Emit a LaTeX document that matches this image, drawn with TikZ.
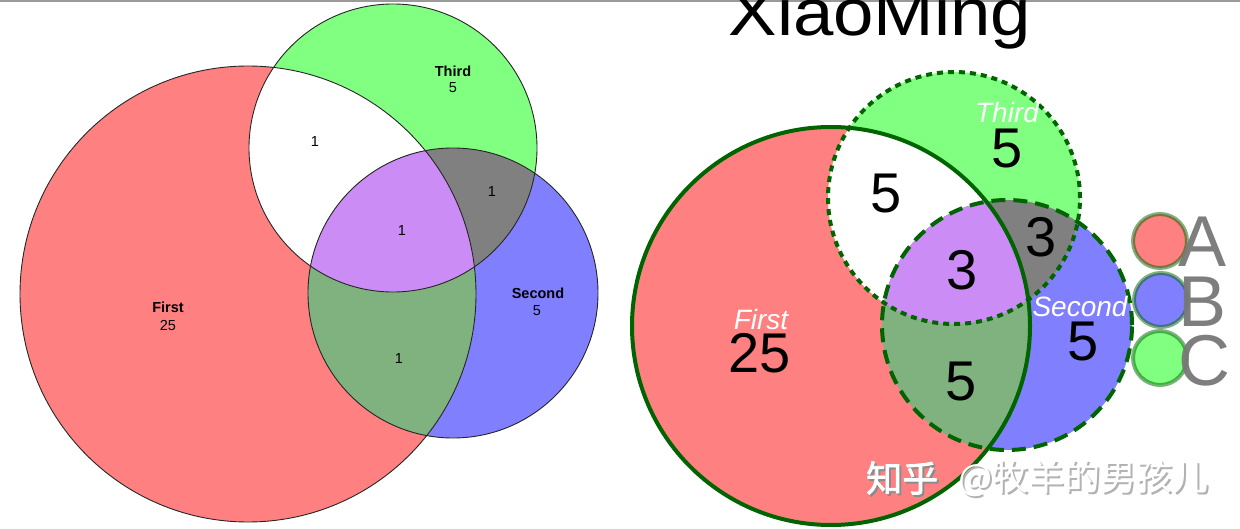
\documentclass[tikz,border=0pt]{standalone}
\usepackage{fontspec}
\setmainfont{Liberation Sans}
\newfontfamily\cjk{Noto Sans CJK SC}
\newfontfamily\cjkb[FakeBold=2]{Noto Sans CJK SC}
\definecolor{vred}{RGB}{255,128,128}
\definecolor{vgreen}{RGB}{128,255,128}
\definecolor{vblue}{RGB}{128,128,255}
\definecolor{vpurple}{RGB}{204,140,245}
\definecolor{vgray}{RGB}{128,128,128}
\definecolor{vmix}{RGB}{128,178,128}
\definecolor{dgreen}{RGB}{0,100,0}
\definecolor{lgray}{RGB}{120,120,120}
\begin{document}
\begin{tikzpicture}[x=1pt,y=-1pt,
  outl/.style={circle,draw=black!85,line width=0.9pt,inner sep=0pt},
  outr/.style={circle,draw=dgreen,line width=4pt,inner sep=0pt},
  lab/.style={anchor=base,font=\fontsize{14.5}{16}\selectfont\bfseries,inner sep=0pt},
  num/.style={anchor=base,font=\fontsize{14.5}{16}\selectfont,inner sep=0pt},
  rlab/.style={anchor=base,font=\fontsize{28}{30}\selectfont\itshape,text=white,inner sep=0pt},
  rnum/.style={anchor=base,font=\fontsize{56}{60}\selectfont,inner sep=0pt},
  leg/.style={circle,draw=dgreen,draw opacity=0.5,line width=4pt,inner sep=0pt,minimum size=54pt},
  legt/.style={anchor=base west,font=\fontsize{72}{76}\selectfont,text=lgray,text opacity=0.95,inner sep=0pt},
  wm/.style={anchor=west,font=\cjk\fontsize{36}{38}\selectfont,inner sep=0pt},
  wmb/.style={anchor=west,font=\cjkb\fontsize{36}{38}\selectfont,inner sep=0pt}]
\useasboundingbox (0,0) rectangle (1240,529);
\clip (0,0) rectangle (1240,529);
\fill[white] (0,0) rectangle (1240,529);
\fill[black!40] (0,0) rectangle (1240,2);
% ---------- left diagram ----------
\fill[vred] (248,294) circle[radius=228];
\fill[vblue] (453,293) circle[radius=145];
\fill[vgreen] (393,148) circle[radius=144];
\begin{scope}
  \clip (248,294) circle[radius=228];
  \fill[white] (393,148) circle[radius=144];
  \fill[vmix] (453,293) circle[radius=145];
\end{scope}
\begin{scope}
  \clip (453,293) circle[radius=145];
  \fill[vgray] (393,148) circle[radius=144];
  \clip (248,294) circle[radius=228];
  \fill[vpurple] (393,148) circle[radius=144];
\end{scope}
\node[outl,minimum size=456pt] (LF) at (248,294) {};
\node[outl,minimum size=290pt] (LS) at (453,293) {};
\node[outl,minimum size=288pt] (LT) at (393,148) {};
\node[lab] (LFl) at (168,313) {First};
\node[num] (LFn) at (168,331) {25};
\node[lab] (LTl) at (453,77) {Third};
\node[num] (LTn) at (453,93) {5};
\node[lab] (LSl) at (538,299) {Second};
\node[num] (LSn) at (537,316) {5};
\node[num] (L13) at (315,147) {1};
\node[num] (L23) at (492,197) {1};
\node[num] (L123) at (402,236) {1};
\node[num] (L12) at (399,363) {1};
% ---------- right diagram ----------
\fill[vred] (831,326) circle[radius=199];
\fill[vblue] (1007,325) circle[radius=125];
\fill[vgreen] (954,198) circle[radius=126];
\begin{scope}
  \clip (831,326) circle[radius=199];
  \fill[white] (954,198) circle[radius=126];
  \fill[vmix] (1007,325) circle[radius=125];
\end{scope}
\begin{scope}
  \clip (1007,325) circle[radius=125];
  \fill[vgray] (954,198) circle[radius=126];
  \clip (831,326) circle[radius=199];
  \fill[vpurple] (954,198) circle[radius=126];
\end{scope}
\node[outr,dash pattern=on 6pt off 5pt,minimum size=252pt] (RT) at (954,198) {};
\node[outr,dash pattern=on 14pt off 8pt,minimum size=250pt] (RS) at (1007,325) {};
\node[outr,minimum size=398pt] (RF) at (831,326) {};
\node[rlab] (RFl) at (761,330) {First};
\node[rnum] (RFn) at (760,373) {25};
\node[rlab] (RTl) at (1007,123) {Third};
\node[rnum] (RTn) at (1007,168) {5};
\node[rlab] (RSl) at (1080,317) {Second};
\node[rnum] (RSn) at (1083,360) {5};
\node[rnum] (R13) at (886,213) {5};
\node[rnum] (R23) at (1041,257) {3};
\node[rnum] (R123) at (962,290) {3};
\node[rnum] (R12) at (961,400) {5};
% ---------- legend ----------
\node[leg,fill=vred] (KA) at (1160,241) {};
\node[leg,fill=vblue] (KB) at (1161,300) {};
\node[leg,fill=vgreen] (KC) at (1160,358) {};
\node[legt] (KAt) at (1178,267) {A};
\node[legt] (KBt) at (1178,327) {B};
\node[legt] (KCt) at (1178,385) {C};
% ---------- title ----------
\node[anchor=base,font=\fontsize{66}{70}\selectfont,xscale=1.1,inner sep=0pt] (title) at (880,36) {XiaoMing};
% ---------- watermark ----------
\node[wmb,text=black!45] (wm1s) at (868,480) {知乎};
\node[wmb,text=white] (wm1) at (866,478) {知乎};
\node[wm,text=black!30] (wm2s) at (960,480) {@牧羊的男孩儿};
\node[wm,text=white] (wm2) at (958,478) {@牧羊的男孩儿};
\end{tikzpicture}
\end{document}
